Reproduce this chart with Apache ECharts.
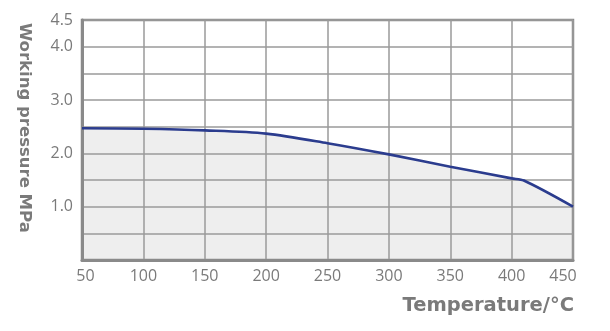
<!DOCTYPE html>
<html>
<head>
<meta charset="utf-8">
<script src="https://cdn.jsdelivr.net/npm/echarts@6/dist/echarts.min.js"></script>
<style>
  html, body { margin: 0; padding: 0; background: #fff; }
  #chart { width: 610px; height: 331px; }
</style>
</head>
<body>
<div id="chart"></div>
<script>
// Working pressure versus temperature
const temperatures = [50, 100, 150, 200, 250, 300, 350, 400, 410, 450];
const pressures = [2.47, 2.46, 2.43, 2.37, 2.19, 1.98, 1.75, 1.53, 1.49, 1.0];
const yTickLabels = ['1.0', '2.0', '3.0', '4.0', '4.5'];

const FONT = '"Open Sans", "Noto Sans", sans-serif';
const NAME_FONT = '"DejaVu Sans", "Open Sans", sans-serif';
const GRID_COLOR = '#9a9a9a';
const BORDER_COLOR = '#8a8a8a';
const TEXT_COLOR = '#7a7a7a';

const points = temperatures.map((t, i) => [t, pressures[i]]);

const chart = echarts.init(document.getElementById('chart'), null, { renderer: 'canvas' });
chart.setOption({
  animation: false,
  grid: {
    left: 82, right: 37, top: 20, bottom: 71,
    show: true, borderColor: BORDER_COLOR, borderWidth: 2.5,
    backgroundColor: 'transparent', z: 1
  },
  xAxis: {
    type: 'value',
    min: 50, max: 450, interval: 50,
    z: 1,
    axisLine: { show: true, lineStyle: { color: BORDER_COLOR, width: 3 } },
    axisTick: { show: false },
    splitLine: { show: true, lineStyle: { color: GRID_COLOR, width: 1.5 } },
    axisLabel: {
      color: TEXT_COLOR, fontFamily: FONT, fontSize: 16, margin: 8,
      formatter: function (v) {
        if (v === 450) return '{r|' + v + '}';
        if (v === 50) return '{l|' + v + '}';
        return String(v);
      },
      rich: {
        r: { color: TEXT_COLOR, fontFamily: FONT, fontSize: 16, padding: [0, 20, 0, 0] },
        l: { color: TEXT_COLOR, fontFamily: FONT, fontSize: 16, padding: [0, 0, 0, 7] }
      }
    }
  },
  yAxis: {
    type: 'value',
    min: 0, max: 4.5, interval: 0.5,
    z: 1,
    axisLine: { show: true, lineStyle: { color: BORDER_COLOR, width: 3 } },
    axisTick: { show: false },
    splitLine: { show: true, lineStyle: { color: GRID_COLOR, width: 1.5 } },
    axisLabel: {
      color: TEXT_COLOR, fontFamily: FONT, fontSize: 16, margin: 9,
      formatter: function (v) {
        const s = v.toFixed(1);
        return yTickLabels.indexOf(s) >= 0 ? s : '';
      }
    }
  },
  graphic: [
    {
      type: 'text',
      left: 16, top: 23,
      rotation: -Math.PI / 2,
      style: {
        text: 'Working pressure MPa',
        fill: TEXT_COLOR,
        font: 'bold 16.5px ' + NAME_FONT
      }
    },
    {
      type: 'text',
      right: 36, top: 296,
      style: {
        text: 'Temperature/°C',
        fill: TEXT_COLOR,
        font: 'bold 19.5px ' + NAME_FONT
      }
    }
  ],
  series: [
    {
      // shaded region beneath the curve, kept under the grid lines
      type: 'line',
      data: points,
      smooth: 0.3,
      symbol: 'none',
      lineStyle: { width: 0 },
      areaStyle: { color: '#eeeeee', opacity: 1 },
      z: 0,
      silent: true
    },
    {
      type: 'line',
      data: points,
      smooth: 0.3,
      symbol: 'none',
      lineStyle: { color: '#2b3c8e', width: 2.6 },
      z: 3
    }
  ]
});
</script>
</body>
</html>
